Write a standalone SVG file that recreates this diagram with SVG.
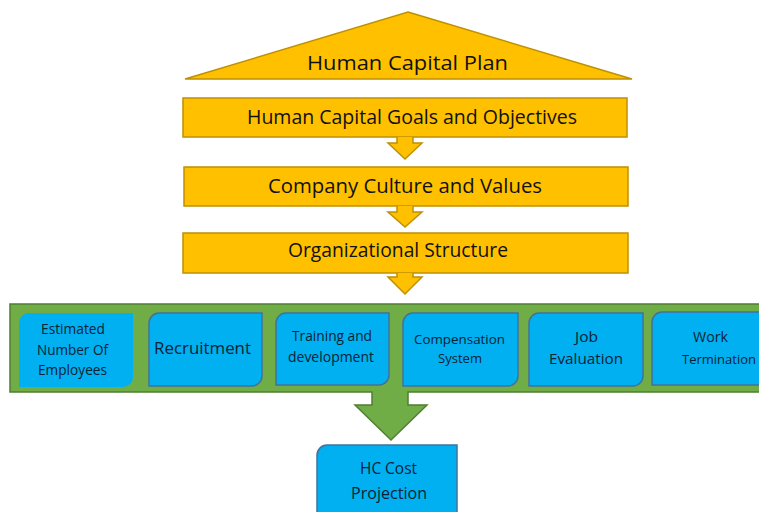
<svg xmlns="http://www.w3.org/2000/svg" width="759" height="512" viewBox="0 0 759 512">
<style>
.y{fill:#FFC000;stroke:#BF9000;stroke-width:1.5}
.b{fill:#00B0F0;stroke:#41719C;stroke-width:1.5}
.g{fill:#70AD47;stroke:#507E32;stroke-width:1.5}
.ty{font-family:"Open Sans","Liberation Sans",sans-serif;font-size:20px;fill:#111111;text-anchor:middle}
.tb{font-family:"Open Sans","Liberation Sans",sans-serif;fill:#0A2236;text-anchor:middle}
</style>
<rect width="759" height="512" fill="#FFFFFF"/>
<g id="plan">
<polygon class="y" points="408,12 632,79 185,79"/>
<text class="ty" font-size="21" x="407.5" y="70" textLength="201" lengthAdjust="spacingAndGlyphs">Human Capital Plan</text>
</g>
<g id="goals">
<rect class="y" x="183" y="98" width="444" height="39"/>
<text class="ty" x="412" y="123.5" textLength="330" lengthAdjust="spacingAndGlyphs">Human Capital Goals and Objectives</text>
</g>
<g id="culture">
<rect class="y" x="184" y="167" width="444" height="39"/>
<text class="ty" x="405" y="193" textLength="274" lengthAdjust="spacingAndGlyphs">Company Culture and Values</text>
</g>
<g id="structure">
<rect class="y" x="183" y="233" width="445" height="40"/>
<text class="ty" x="398" y="257" textLength="220" lengthAdjust="spacingAndGlyphs">Organizational Structure</text>
</g>
<g id="connectors">
<path class="y" d="M397,137 V143 H388 L405,159 L422,143 H413 V137"/>
<path class="y" d="M397,206 V212 H388 L405,227 L422,212 H413 V206"/>
<path class="y" d="M397,273 V277 H388 L405,294 L422,277 H413 V273"/>
</g>
<g id="hr-functions">
<path class="g" d="M10,304 H762 V392 H408 V405 H427 L391,440 L355,405 H372 V392 H10 Z"/>
</g>
<g id="estimated">
<path d="M29,313 H133 V377 A10,10 0 0 1 123,387 H19 V323 A10,10 0 0 1 29,313 Z" fill="#00B0F0"/>
<text class="tb" font-size="14" x="73" y="334" textLength="64" lengthAdjust="spacingAndGlyphs">Estimated</text>
<text class="tb" font-size="14" x="72.5" y="355" textLength="71" lengthAdjust="spacingAndGlyphs">Number Of</text>
<text class="tb" font-size="14" x="72.5" y="375" textLength="69" lengthAdjust="spacingAndGlyphs">Employees</text>
</g>
<g id="recruitment">
<path class="b" d="M159,313 H262 V376 A10,10 0 0 1 252,386 H149 V323 A10,10 0 0 1 159,313 Z"/>
<text class="tb" font-size="15.5" x="202.5" y="354" textLength="97" lengthAdjust="spacingAndGlyphs">Recruitment</text>
</g>
<g id="training">
<path class="b" d="M286,313 H389 V375 A10,10 0 0 1 379,385 H276 V323 A10,10 0 0 1 286,313 Z"/>
<text class="tb" font-size="14" x="332" y="341" textLength="80" lengthAdjust="spacingAndGlyphs">Training and</text>
<text class="tb" font-size="14" x="331" y="362" textLength="86" lengthAdjust="spacingAndGlyphs">development</text>
</g>
<g id="compensation">
<path class="b" d="M413,313 H518 V376 A10,10 0 0 1 508,386 H403 V323 A10,10 0 0 1 413,313 Z"/>
<text class="tb" font-size="13" x="459.5" y="344" textLength="91" lengthAdjust="spacingAndGlyphs">Compensation</text>
<text class="tb" font-size="13" x="460" y="363" textLength="44" lengthAdjust="spacingAndGlyphs">System</text>
</g>
<g id="job-evaluation">
<path class="b" d="M539,313 H643 V376 A10,10 0 0 1 633,386 H529 V323 A10,10 0 0 1 539,313 Z"/>
<text class="tb" font-size="14.5" x="586.5" y="342" textLength="23" lengthAdjust="spacingAndGlyphs">Job</text>
<text class="tb" font-size="14.5" x="586" y="364" textLength="74" lengthAdjust="spacingAndGlyphs">Evaluation</text>
</g>
<g id="work-termination">
<path class="b" d="M662,312 H770 V385 H652 V322 A10,10 0 0 1 662,312 Z"/>
<text class="tb" font-size="14.5" x="710.5" y="342" textLength="35" lengthAdjust="spacingAndGlyphs">Work</text>
<text class="tb" font-size="13" x="719" y="364">Termination</text>
</g>
<g id="hc-cost">
<path class="b" d="M327,445 H457 V520 H317 V455 A10,10 0 0 1 327,445 Z"/>
<text class="tb" font-size="15.5" x="388.5" y="474" textLength="57" lengthAdjust="spacingAndGlyphs">HC Cost</text>
<text class="tb" font-size="15.5" x="389" y="499" textLength="76" lengthAdjust="spacingAndGlyphs">Projection</text>
</g>
</svg>
